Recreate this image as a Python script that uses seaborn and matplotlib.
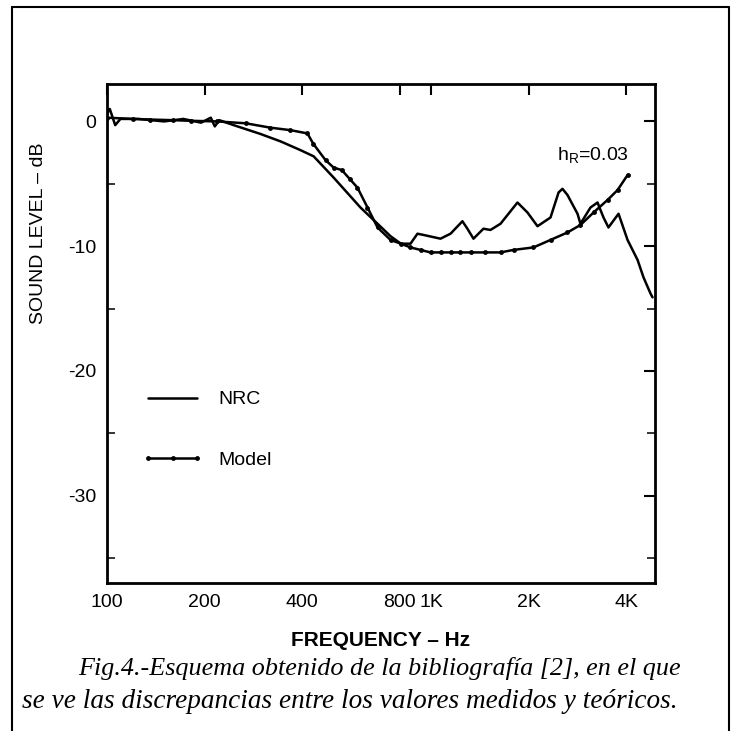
import numpy as np
import pandas as pd
import matplotlib
matplotlib.use("Agg")
import matplotlib.pyplot as plt
from matplotlib.ticker import MultipleLocator, NullLocator
from matplotlib.lines import Line2D
import seaborn as sns

# --- data ---
nrc_freq = [100, 102, 106, 110, 125, 150, 172, 195, 209, 215, 222, 246, 297, 343,
            395, 434, 500, 605, 683, 749, 806, 863, 907, 947, 1068, 1147, 1248,
            1293, 1350, 1449, 1523, 1636, 1845, 1981, 2127, 2333, 2470, 2540, 2632,
            2826, 2886, 3099, 3258, 3327, 3399, 3521, 3782, 4032, 4329, 4516, 4747,
            4815]
nrc_db = [0.6, 1.0, -0.3, 0.2, 0.2, 0.0, 0.2, -0.1, 0.3, -0.4, 0.1, -0.3, -1.0, -1.6,
          -2.3, -2.8, -4.5, -6.9, -8.2, -9.2, -9.8, -9.8, -9.0, -9.1, -9.4, -9.0, -8.0,
          -8.6, -9.4, -8.6, -8.7, -8.2, -6.5, -7.3, -8.4, -7.7, -5.7, -5.4, -5.9,
          -7.4, -8.2, -6.9, -6.5, -7.1, -7.7, -8.5, -7.4, -9.5, -11.1, -12.5, -13.8,
          -14.1]

model_freq = [100, 120, 136, 160, 181, 219, 268, 319, 368, 415, 433, 472, 500, 530,
              560, 592, 636, 683, 749, 806, 863, 927, 995, 1070, 1147, 1230, 1322,
              1470, 1636, 1794, 2067, 2333, 2632, 2886, 3167, 3497, 3756, 4032]
model_db = [0.3, 0.2, 0.15, 0.1, 0.05, 0.0, -0.15, -0.5, -0.7, -0.96, -1.8, -3.1, -3.7,
            -3.9, -4.6, -5.3, -6.9, -8.5, -9.5, -9.8, -10.1, -10.3, -10.5, -10.5,
            -10.5, -10.5, -10.5, -10.5, -10.5, -10.3, -10.1, -9.5, -8.9, -8.3, -7.3,
            -6.3, -5.5, -4.3]

x_ticks = [100, 200, 400, 800, 1000, 2000, 4000]
x_tick_labels = ["100", "200", "400", "800", "1K", "2K", "4K"]
y_ticks = [0, -10, -20, -30]

caption_1 = "Fig.4.-Esquema obtenido de la bibliografía [2], en el que"
caption_2 = "se ve las discrepancias entre los valores medidos y teóricos."

sns.set_theme(style="white")
plt.rcParams["font.family"] = ["Liberation Sans", "DejaVu Sans"]
plt.rcParams["axes.unicode_minus"] = False
plt.rcParams["text.color"] = "black"
plt.rcParams["axes.labelcolor"] = "black"

nrc = pd.DataFrame({"freq": nrc_freq, "db": nrc_db})
model = pd.DataFrame({"freq": model_freq, "db": model_db})

fig = plt.figure(figsize=(7.42, 7.31), dpi=100)
ax = fig.add_axes([107 / 742, 1 - 583 / 731, 548 / 742, 499 / 731])

sns.lineplot(data=nrc, x="freq", y="db", ax=ax, color="black", lw=1.8,
             estimator=None, sort=False, label="NRC")
sns.lineplot(data=model, x="freq", y="db", ax=ax, color="black", lw=1.8,
             estimator=None, sort=False, marker="o", markersize=3.5,
             markeredgewidth=0, label="Model")

ax.set_xscale("log")
ax.set_xlim(100, 4900)
ax.set_ylim(-37, 3)
ax.set_xticks(x_ticks)
ax.set_xticklabels(x_tick_labels)
ax.xaxis.set_minor_locator(NullLocator())
ax.set_yticks(y_ticks)
ax.yaxis.set_minor_locator(MultipleLocator(5))

ax.tick_params(axis="both", which="major", direction="in", top=True, right=True,
               length=8, width=1.5, labelsize=14, colors="black", pad=8)
ax.tick_params(axis="y", which="minor", direction="in", left=True, right=True,
               length=6, width=1.3)
for sp in ax.spines.values():
    sp.set_linewidth(2)
    sp.set_color("black")

ax.set_xlabel("FREQUENCY – Hz", fontsize=15, fontweight="bold", labelpad=14)
ax.set_ylabel("SOUND LEVEL – dB", fontsize=14)
ax.yaxis.set_label_coords(-0.11, 0.70)

ax.text(3150, -2.7, r"$\mathregular{h_R}$=0.03", fontsize=14, ha="center",
        va="center")

ax.legend(loc="upper left", bbox_to_anchor=(0.065, 0.385), frameon=False,
          fontsize=14, handlelength=3.1, handletextpad=0.8, labelspacing=2.2,
          numpoints=3, borderpad=0, borderaxespad=0)

# page frame around the figure
fx0, fx1, fy1 = 12 / 742, 729 / 742, 1 - 7 / 731
for xs, ys in [([fx0, fx0], [0, fy1]), ([fx0, fx1], [fy1, fy1]), ([fx1, fx1], [fy1, 0])]:
    fig.add_artist(Line2D(xs, ys, color="black", lw=1.5))

fig.text(78 / 742, 1 - 669 / 731, caption_1, fontsize=18.8, style="italic",
         family="Liberation Serif", va="center", ha="left")
fig.text(22 / 742, 1 - 701 / 731, caption_2, fontsize=19.6, style="italic",
         family="Liberation Serif", va="center", ha="left")

fig.savefig("out.png", dpi=100)
